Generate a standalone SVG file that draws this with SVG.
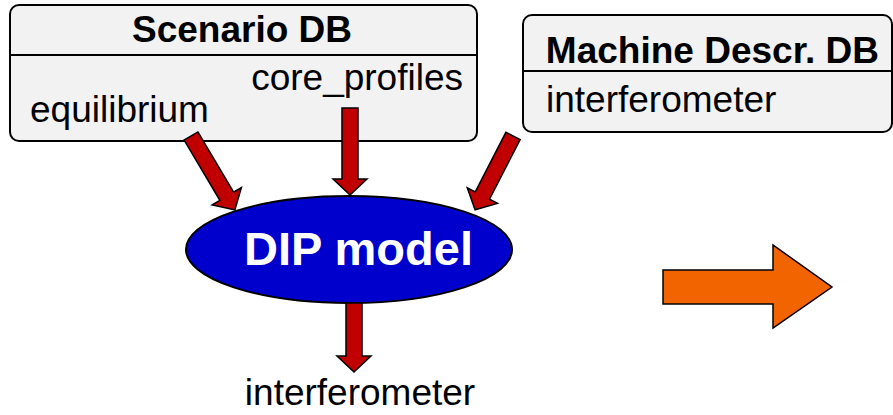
<svg xmlns="http://www.w3.org/2000/svg" width="893" height="415" viewBox="0 0 893 415">
<style>
.box{fill:#F2F2F2;stroke:#000;stroke-width:2}
.div{stroke:#000;stroke-width:2}
.t{font-family:"Liberation Sans",Arial,sans-serif;font-size:37px;fill:#000}
.b{font-weight:bold}
.red{fill:#C00000;stroke:#000;stroke-width:1.5;stroke-linejoin:miter}
.orange{fill:#F26400;stroke:#000;stroke-width:1.5}
</style>
<rect width="893" height="415" fill="#fff"/>
<g id="scenario-db">
<rect class="box" x="10" y="5" width="467" height="136" rx="9"/>
<line class="div" x1="10" y1="55" x2="477" y2="55"/>
<text class="t b" x="242" y="42" text-anchor="middle">Scenario DB</text>
<text class="t" x="463" y="90" text-anchor="end">core_profiles</text>
<text class="t" x="30" y="122">equilibrium</text>
</g>
<g id="machine-db">
<rect class="box" x="523" y="15" width="369" height="117" rx="9"/>
<line class="div" x1="523" y1="71" x2="892" y2="71"/>
<text class="t b" x="879" y="63" text-anchor="end">Machine Descr. DB</text>
<text class="t" x="546" y="112">interferometer</text>
</g>
<g id="dip-model">
<ellipse cx="349" cy="249.5" rx="163" ry="53.5" fill="#0000CC" stroke="#000" stroke-width="2"/>
<text x="358.5" y="265" text-anchor="middle" font-family="Liberation Sans, Arial, sans-serif" font-size="47" font-weight="bold" fill="#fff">DIP model</text>
</g>
<g id="output">
<text class="t" x="360" y="405" text-anchor="middle">interferometer</text>
</g>
<g id="connectors">
<path class="red" transform="translate(191,136) rotate(59.3)" d="M0,-8 H70 V-17 L86,0 L70,17 V8 H0 Z"/>
<path class="red" transform="translate(350,108) rotate(90)" d="M0,-8 H71 V-17 L87,0 L71,17 V8 H0 Z"/>
<path class="red" transform="translate(513,136) rotate(117.2)" d="M0,-8 H67 V-17 L83,0 L67,17 V8 H0 Z"/>
<path class="red" transform="translate(354,303) rotate(90)" d="M0,-8 H53 V-17 L69,0 L53,17 V8 H0 Z"/>
</g>
<g id="orange-arrow">
<path class="orange" d="M663,270 H773 V245 L832,287 L773,328 V304 H663 Z"/>
</g>
</svg>
